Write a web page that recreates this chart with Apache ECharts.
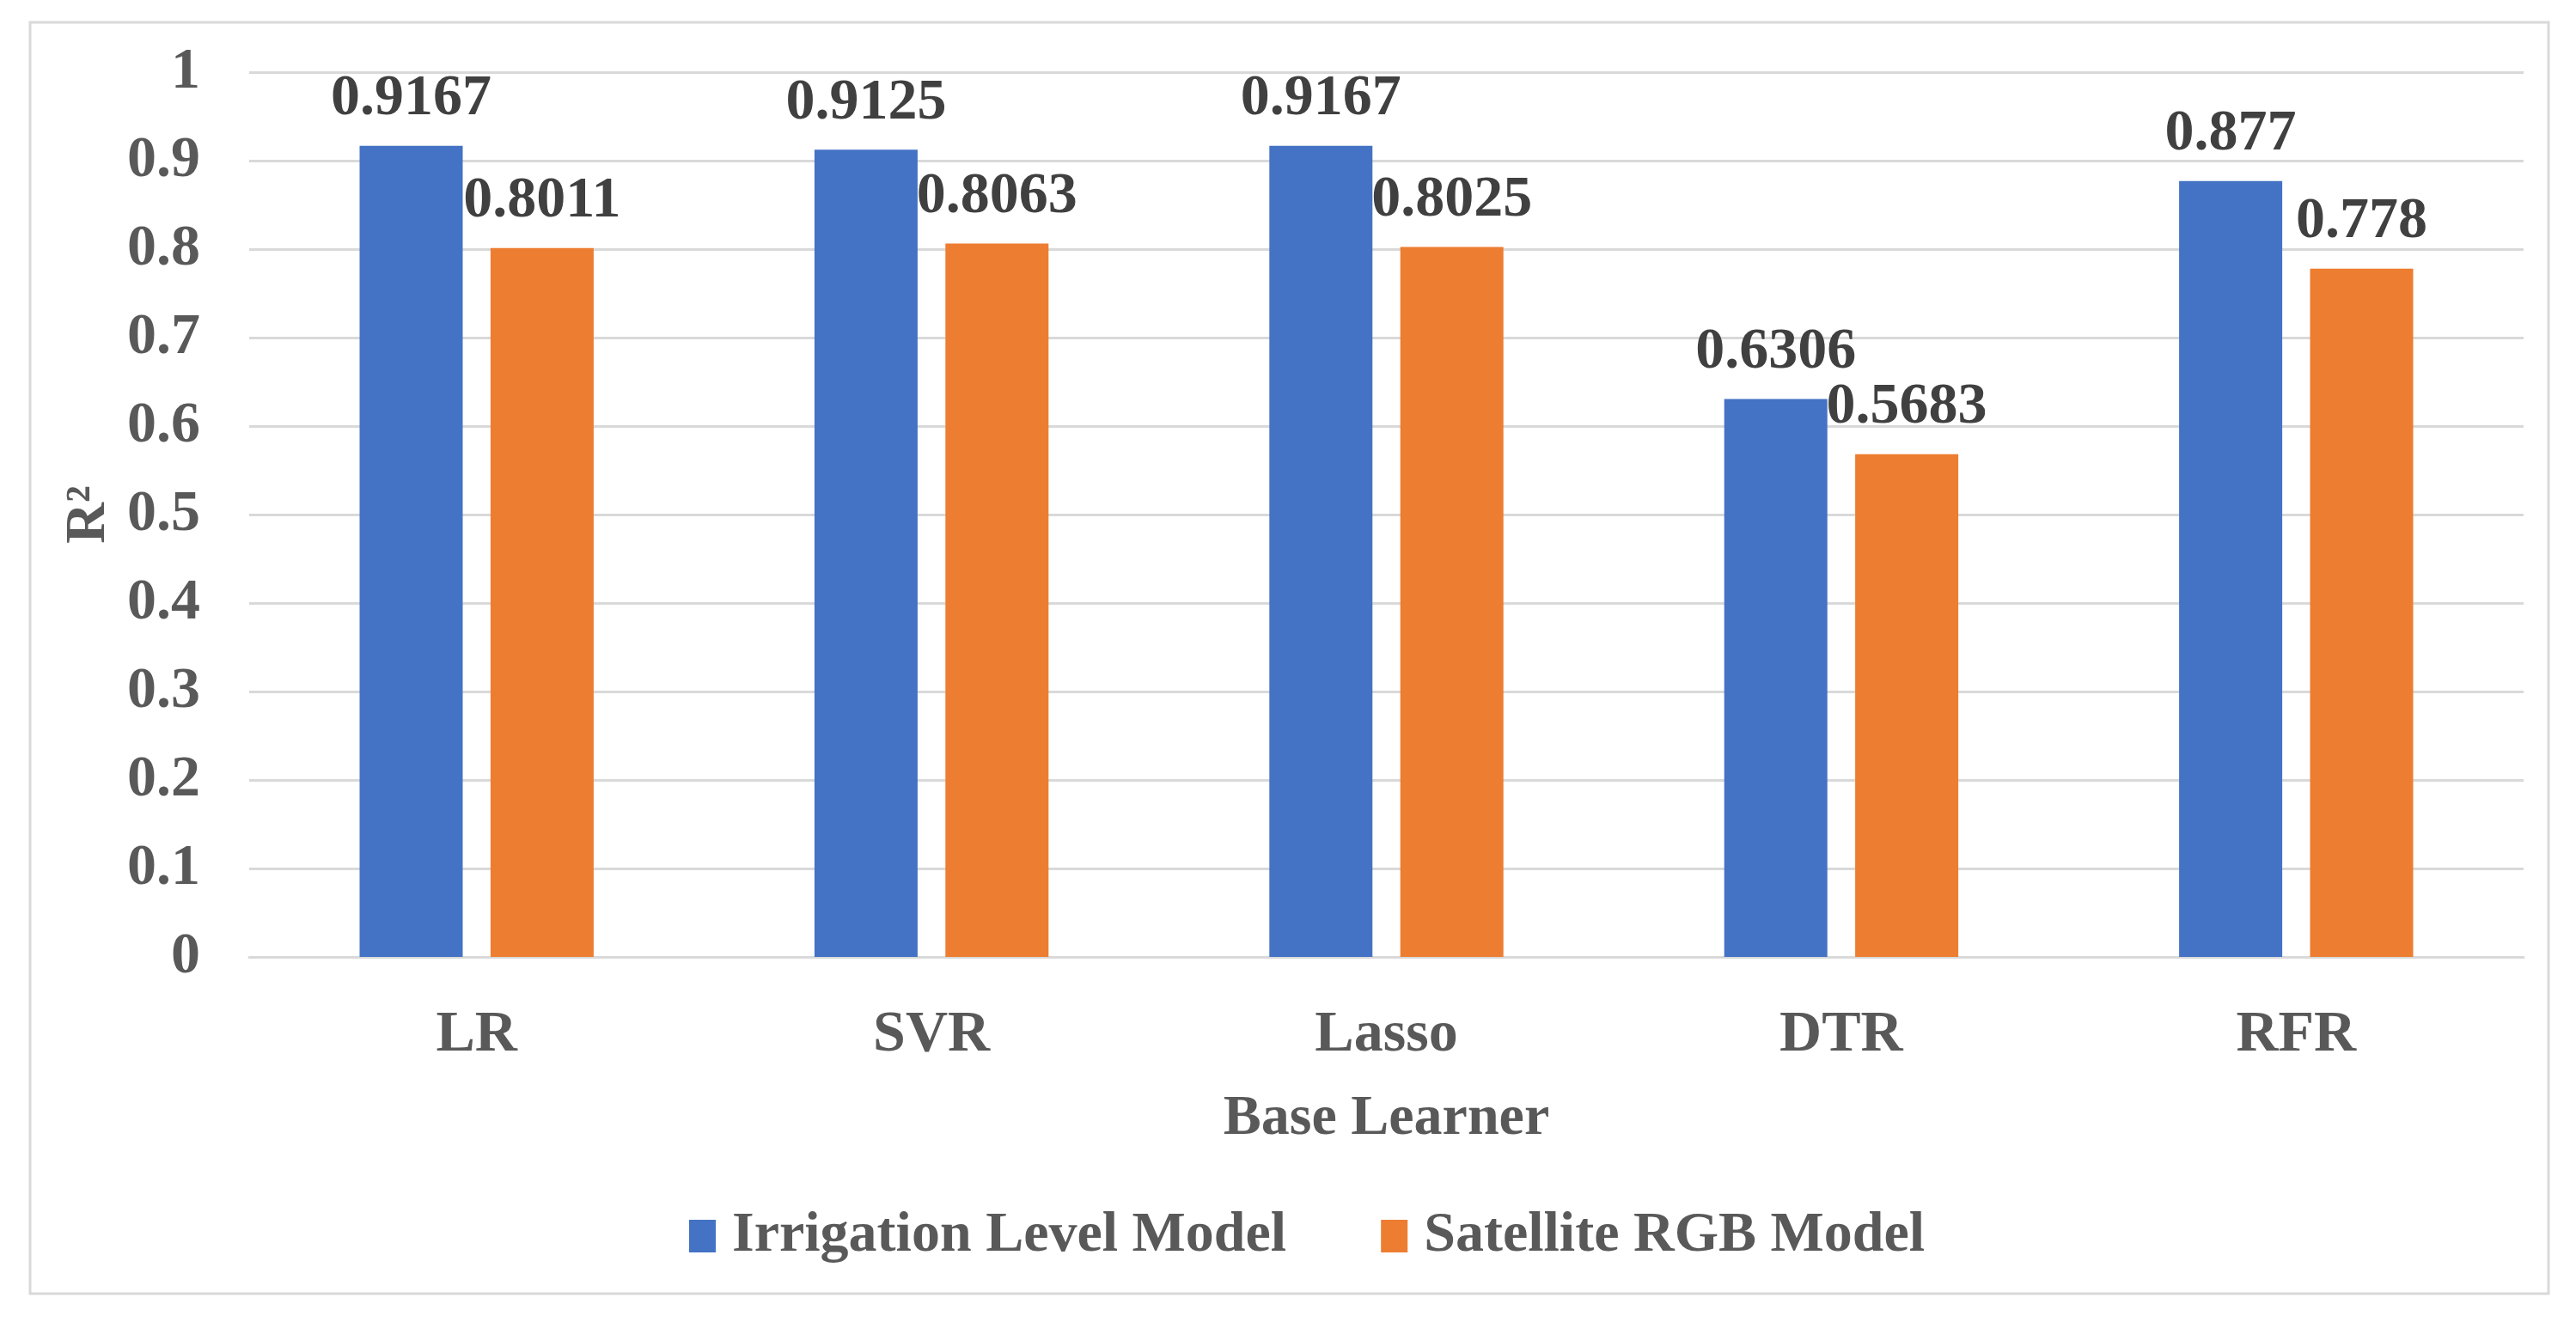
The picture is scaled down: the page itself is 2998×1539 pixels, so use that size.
<!DOCTYPE html>
<html>
<head>
<meta charset="utf-8">
<script src="https://cdn.jsdelivr.net/npm/echarts@6/dist/echarts.min.js"></script>
<style>
html,body{margin:0;padding:0;background:#fff;}
#chart{width:2998px;height:1539px;}
</style>
</head>
<body>
<div id="chart"></div>
<script>
const categories = ['LR', 'SVR', 'Lasso', 'DTR', 'RFR'];
const irrigationValues = [0.9167, 0.9125, 0.9167, 0.6306, 0.877];
const satelliteValues = [0.8011, 0.8063, 0.8025, 0.5683, 0.778];
const seriesNames = ['Irrigation Level Model', 'Satellite RGB Model'];
const xAxisTitle = 'Base Learner';
const yAxisTitle = 'R\u00B2';

const FONT = '"Liberation Serif", "Times New Roman", serif';
const chart = echarts.init(document.getElementById('chart'));
chart.setOption({
  backgroundColor: '#ffffff',
  animation: false,
  graphic: [{
    type: 'rect',
    shape: { x: 35, y: 26, width: 2931, height: 1480 },
    style: { fill: 'none', stroke: '#D9D9D9', lineWidth: 3 },
    silent: true
  }],
  grid: { left: 290, right: 61, top: 84, bottom: 425, containLabel: false },
  legend: {
    data: seriesNames,
    left: 797,
    top: 1401,
    itemWidth: 31,
    itemHeight: 38,
    itemGap: 110,
    icon: 'rect',
    textStyle: { fontFamily: FONT, fontWeight: 'bold', fontSize: 66, color: '#595959', padding: [0, 0, 0, 14] }
  },
  xAxis: {
    type: 'category',
    data: categories,
    name: xAxisTitle,
    nameLocation: 'middle',
    nameGap: 156,
    nameTextStyle: { fontFamily: FONT, fontWeight: 'bold', fontSize: 66, color: '#595959' },
    axisLine: { lineStyle: { color: '#D9D9D9', width: 3 } },
    axisTick: { show: false },
    axisLabel: { fontFamily: FONT, fontWeight: 'bold', fontSize: 68, color: '#595959', margin: 57 }
  },
  yAxis: {
    type: 'value',
    min: 0,
    max: 1,
    interval: 0.1,
    name: yAxisTitle,
    nameLocation: 'middle',
    nameGap: 146,
    nameRotate: 90,
    nameTextStyle: { fontFamily: FONT, fontWeight: 'bold', fontSize: 66, color: '#595959' },
    axisLine: { show: false },
    axisTick: { show: false },
    axisLabel: { fontFamily: FONT, fontWeight: 'bold', fontSize: 68, color: '#595959', margin: 57 },
    splitLine: { lineStyle: { color: '#D9D9D9', width: 3 } }
  },
  series: [
    {
      name: seriesNames[0],
      type: 'bar',
      data: irrigationValues,
      barWidth: 120,
      barGap: '27%',
      itemStyle: { color: '#4472C4' },
      label: { show: true, position: 'top', distance: 20, fontFamily: FONT, fontWeight: 'bold', fontSize: 68, color: '#404040' }
    },
    {
      name: seriesNames[1],
      type: 'bar',
      data: satelliteValues,
      barWidth: 120,
      barGap: '27%',
      itemStyle: { color: '#ED7D31' },
      label: { show: true, position: 'top', distance: 20, fontFamily: FONT, fontWeight: 'bold', fontSize: 68, color: '#404040' }
    }
  ]
});
</script>
</body>
</html>
